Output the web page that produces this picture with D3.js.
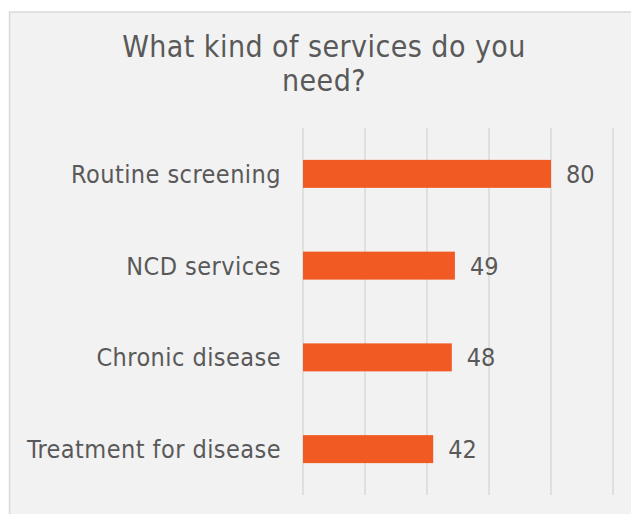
<!DOCTYPE html>
<html>
<head>
<meta charset="utf-8">
<script src="https://cdn.jsdelivr.net/npm/d3@7"></script>
<style>
  html, body { margin: 0; padding: 0; background: #ffffff; }
  svg { display: block; }
  text { font-family: "DejaVu Sans Condensed", "DejaVu Sans", sans-serif; font-stretch: condensed; fill: #595959; }
</style>
</head>
<body>
<svg id="chart" width="631" height="514"></svg>
<script>
// Survey answers: what kind of services respondents need
const categories = ["Routine screening", "NCD services", "Chronic disease", "Treatment for disease"];
const counts = [80, 49, 48, 42];
const gridTicks = [0, 20, 40, 60, 80, 100];
const titleLines = ["What kind of services do you", "need?"];

const svg = d3.select("#chart");

// chart panel
svg.append("rect")
  .attr("x", 9.5).attr("y", 12)
  .attr("width", 640).attr("height", 520)
  .attr("fill", "#f2f2f2")
  .attr("stroke", "#d9d9d9")
  .attr("stroke-width", 1.5);

const x = d3.scaleLinear().domain([0, 100]).range([303, 613]);
const y = d3.scaleBand().domain(categories).range([128, 495])
  .paddingInner(0.695).paddingOuter(0.3475);

// vertical gridlines
svg.append("g").selectAll("line")
  .data(gridTicks)
  .join("line")
  .attr("x1", d => x(d)).attr("x2", d => x(d))
  .attr("y1", 128).attr("y2", 495)
  .attr("stroke", "#d9d9d9")
  .attr("stroke-width", 1.5);

// bars
svg.append("g").selectAll("rect")
  .data(categories)
  .join("rect")
  .attr("x", x(0))
  .attr("y", d => y(d))
  .attr("width", (d, i) => x(counts[i]) - x(0))
  .attr("height", y.bandwidth())
  .attr("fill", "#f15a22");

// category labels
svg.append("g").selectAll("text")
  .data(categories)
  .join("text")
  .attr("x", 281)
  .attr("y", d => y(d) + y.bandwidth() / 2)
  .attr("dy", "0.36em")
  .attr("text-anchor", "end")
  .attr("font-size", 25)
  .attr("letter-spacing", 0.45)
  .text(d => d);

// value labels
svg.append("g").selectAll("text")
  .data(categories)
  .join("text")
  .attr("x", (d, i) => x(counts[i]) + 15)
  .attr("y", d => y(d) + y.bandwidth() / 2)
  .attr("dy", "0.36em")
  .attr("font-size", 25)
  .text((d, i) => counts[i]);

// title
svg.append("g").selectAll("text")
  .data(titleLines)
  .join("text")
  .attr("x", 324)
  .attr("y", (d, i) => 57 + i * 34)
  .attr("text-anchor", "middle")
  .attr("font-size", 30)
  .attr("letter-spacing", 0.45)
  .text(d => d);
</script>
</body>
</html>
